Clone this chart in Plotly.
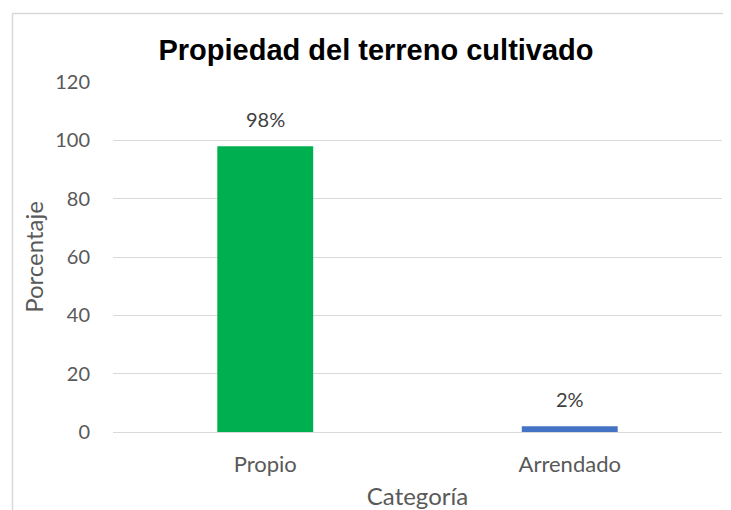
import plotly.graph_objects as go

categories = ["Propio", "Arrendado"]
values = [98, 2]
labels = ["98%", "2%"]
colors = ["#00B050", "#4472C4"]
y_ticks = [0, 20, 40, 60, 80, 100, 120]

# the page places the figure at an 8px body margin
W, H = 723, 502
L, R, T, B = 105, 9, 74, 78
pw, ph = W - L - R, H - T - B

def px_x(p):
    return (p - L) / pw

def px_y(p):
    return (H - B - p) / ph

fig = go.Figure(go.Bar(
    x=categories, y=values, marker_color=colors, marker_line_width=0,
))

for c, v, t in zip(categories, values, labels):
    fig.add_annotation(x=c, y=v, text=t, showarrow=False, yanchor="middle", yshift=27,
                       font=dict(family="Lato", size=20, color="#404040"))

fig.update_layout(
    width=W, height=H, margin=dict(l=L, r=R, t=T, b=B, autoexpand=False),
    paper_bgcolor="white", plot_bgcolor="white",
    bargap=0.685, showlegend=False,
    title=dict(text="<b>Propiedad del terreno cultivado</b>", x=368 / W, xref="container",
               xanchor="center", y=1 - 42 / H, yref="container", yanchor="middle",
               font=dict(family="Liberation Sans", size=29, color="black")),
    font=dict(family="Lato", color="#595959"),
    shapes=[dict(type="rect", xref="paper", yref="paper",
                 x0=px_x(4.5), x1=px_x(730), y0=px_y(530), y1=px_y(5.5),
                 line=dict(color="#D9D9D9", width=1.5), layer="below")],
)
fig.update_yaxes(range=[0, 120], tickvals=y_ticks, showgrid=True, gridcolor="#D9D9D9",
                 gridwidth=1, zeroline=False, showline=False, automargin=False,
                 tickfont=dict(family="Lato", size=20, color="#595959"),
                 ticklabelstandoff=22,
                 title=dict(text="Porcentaje", font=dict(family="Lato", size=24, color="#595959"),
                            standoff=4))
fig.update_xaxes(showgrid=False, showline=True, linecolor="#D9D9D9", linewidth=1, automargin=False,
                 tickfont=dict(family="Lato", size=22, color="#595959"),
                 ticklabelstandoff=13,
                 title=dict(text="Categoría", font=dict(family="Lato", size=24, color="#595959"),
                            standoff=20))

fig.write_html("out.html", post_script="document.body.style.overflow='hidden';")
